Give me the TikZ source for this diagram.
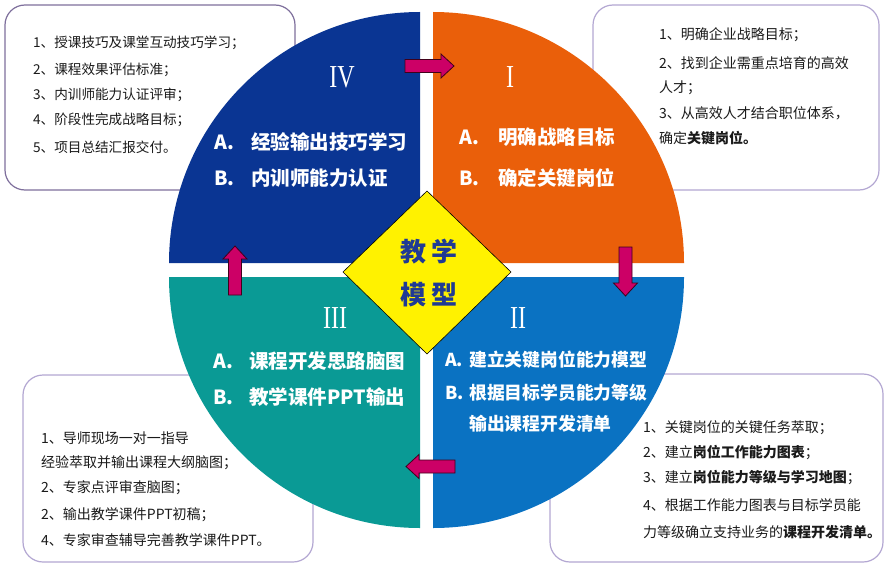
\documentclass[tikz,border=0pt]{standalone}
\usepackage{fontspec}
\setmainfont{Noto Sans CJK SC}
\newfontfamily\numfont{Liberation Serif}
\definecolor{qblue}{HTML}{0A3593}
\definecolor{qorange}{HTML}{EA5F0A}
\definecolor{qteal}{HTML}{0A9A95}
\definecolor{qbluetwo}{HTML}{0A72C2}
\definecolor{arrfill}{HTML}{CC0066}
\definecolor{arredge}{HTML}{40001A}
\definecolor{boxedge}{HTML}{B3A7D2}
\definecolor{boxedgedark}{HTML}{7E6F9C}
\definecolor{dmtext}{HTML}{1F3A94}
\definecolor{txt}{HTML}{1A1A1A}
\begin{document}
\begin{tikzpicture}[x=1pt,y=-1pt,
  infobox/.style={draw=boxedge, line width=1.2pt, fill=white, rounded corners=20pt},
  boxtext/.style={anchor=west, inner sep=0pt, text=txt, font=\fontsize{14}{16}\selectfont},
  boxtextsmall/.style={boxtext, font=\fontsize{13.6}{16}\selectfont},
  quadtext/.style={anchor=west, inner sep=0pt, text=white, font=\fontsize{19.5}{22}\selectfont\bfseries},
  quadsmall/.style={anchor=west, inner sep=0pt, text=white, font=\fontsize{17.8}{20}\selectfont\bfseries},
  numeral/.style={text=white, inner sep=0pt, font=\fontsize{32}{34}\numfont},
  centertext/.style={inner sep=0pt, text=dmtext, font=\fontsize{26}{30}\selectfont\bfseries},
  arrowbody/.style={fill=arrfill, draw=arredge, line width=0.8pt, line join=miter},
  barrow/.pic={\path[arrowbody] (0pt,-6.5pt) -- (36pt,-6.5pt) -- (36pt,-12pt) -- (49pt,0pt) -- (36pt,12pt) -- (36pt,6.5pt) -- (0pt,6.5pt) -- cycle;}
]
\useasboundingbox (0,0) rectangle (891,567);

% info boxes
\path[infobox, draw=boxedgedark] (5,5) rectangle (295,190);
\path[infobox] (593,5) rectangle (879,190);
\path[infobox] (23,375) rectangle (313,562);
\path[infobox] (550,374) rectangle (883,562);

% quadrants
\fill[qblue] (420,263) -- ++(-251pt,0pt) arc[start angle=180,end angle=90,radius=251pt] -- cycle;
\fill[qorange] (433,263) -- ++(0pt,251pt) arc[start angle=90,end angle=0,radius=251pt] -- cycle;
\fill[qteal] (420,277) -- ++(-251pt,0pt) arc[start angle=180,end angle=270,radius=251pt] -- cycle;
\fill[qbluetwo] (433,277) -- ++(251pt,0pt) arc[start angle=0,end angle=-90,radius=251pt] -- cycle;

% arrows
\pic at (405,66) {barrow};
\pic[rotate=-90] at (625.5,247) {barrow};
\pic[rotate=180] at (455,466.5) {barrow};
\pic[rotate=90] at (235,295) {barrow};

% diamond
\path[fill=yellow, draw=black, line width=0.6pt] (427,191) -- (511,272) -- (427,354) -- (343,272) -- cycle;
\node[centertext] (c1) at (429,252) {教\hspace{6pt}学};
\node[centertext] (c2) at (429,295) {模\hspace{6pt}型};

% numerals
\node[numeral] (n4) at (342,77) {\scalebox{0.75}[1]{IV}};
\node[numeral] (n1) at (510,77) {\scalebox{0.75}[1]{I}};
\node[numeral] (n3) at (335,318) {\scalebox{0.75}[1]{III}};
\node[numeral] (n2) at (518,318) {\scalebox{0.75}[1]{II}};

% quadrant texts
\node[quadtext] (q4a) at (214,142) {A.};
\node[quadtext] (q4at) at (251,142) {经验输出技巧学习};
\node[quadtext] (q4b) at (214,178) {B.};
\node[quadtext] (q4bt) at (251,178) {内训师能力认证};

\node[quadtext] (q1a) at (459,137) {A.};
\node[quadtext] (q1at) at (498,137) {明确战略目标};
\node[quadtext] (q1b) at (459,178) {B.};
\node[quadtext] (q1bt) at (498,178) {确定关键岗位};

\node[quadtext] (q3a) at (213,361) {A.};
\node[quadtext] (q3at) at (249,361) {课程开发思路脑图};
\node[quadtext] (q3b) at (213,397) {B.};
\node[quadtext] (q3bt) at (249,397) {教学课件PPT输出};

\node[quadsmall] (q2a) at (445,360) {A.};
\node[quadsmall] (q2at) at (469,360) {建立关键岗位能力模型};
\node[quadsmall] (q2b) at (445,393) {B.};
\node[quadsmall] (q2bt) at (469,393) {根据目标学员能力等级};
\node[quadsmall] (q2ct) at (469,424) {输出课程开发清单};

% box texts
\node[boxtextsmall] (t41) at (33,43) {1、授课技巧及课堂互动技巧学习；};
\node[boxtextsmall] (t42) at (33,70) {2、课程效果评估标准；};
\node[boxtextsmall] (t43) at (33,95) {3、内训师能力认证评审；};
\node[boxtextsmall] (t44) at (33,120) {4、阶段性完成战略目标；};
\node[boxtextsmall] (t45) at (33,147) {5、项目总结汇报交付。};

\node[boxtext] (t11) at (659,35) {1、明确企业战略目标；};
\node[boxtext] (t12) at (659,63) {2、找到企业需重点培育的高效};
\node[boxtext] (t13) at (659,88) {人才；};
\node[boxtext] (t14) at (659,113) {3、从高效人才结合职位体系，};
\node[boxtext] (t15) at (659,138) {确定{\bfseries 关键岗位。}};

\node[boxtext] (t31) at (41,438) {1、导师现场一对一指导};
\node[boxtext] (t32) at (41,463) {经验萃取并输出课程大纲脑图；};
\node[boxtext] (t33) at (41,488) {2、专家点评审查脑图；};
\node[boxtext] (t34) at (41,515) {2、输出教学课件PPT初稿；};
\node[boxtext] (t35) at (41,540) {4、专家审查辅导完善教学课件PPT。};

\node[boxtext] (t21) at (643,428) {1、关键岗位的关键任务萃取；};
\node[boxtext] (t22) at (643,453) {2、建立{\bfseries 岗位工作能力图表}；};
\node[boxtext] (t23) at (643,478) {3、建立{\bfseries 岗位能力等级与学习地图}；};
\node[boxtext] (t24) at (643,505) {4、根据工作能力图表与目标学员能};
\node[boxtext] (t25) at (643,532) {力等级确立支持业务的{\bfseries 课程开发清单。}};
\end{tikzpicture}
\end{document}
